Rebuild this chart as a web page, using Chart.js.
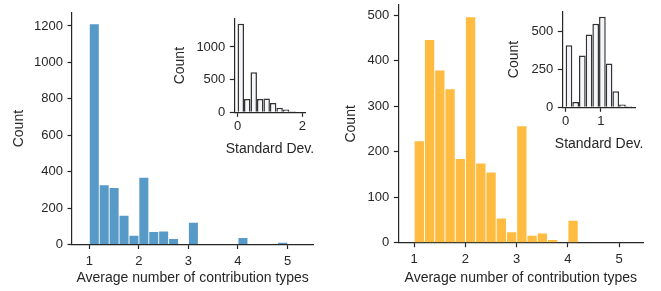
<!DOCTYPE html>
<html>
<head>
<meta charset="utf-8">
<script src="https://cdn.jsdelivr.net/npm/chart.js@4.4.1/dist/chart.umd.min.js"></script>
<style>
  body { margin: 0; background: #fff; }
  #wrap { position: relative; width: 661px; height: 291px; }
  #wrap canvas { position: absolute; left: 0; top: 0; }
</style>
</head>
<body>
<div id="wrap">
  <canvas id="left-main" width="661" height="291"></canvas>
  <canvas id="left-inset" width="661" height="291"></canvas>
  <canvas id="right-main" width="661" height="291"></canvas>
  <canvas id="right-inset" width="661" height="291"></canvas>
</div>
<script>
// ---------------- data ----------------
// main histograms: bin centers (bins of 0.2 from 1 to 5)
const mainBins = [1.1, 1.3, 1.5, 1.7, 1.9, 2.1, 2.3, 2.5, 2.7, 2.9, 3.1, 3.3, 3.5, 3.7, 3.9, 4.1, 4.3, 4.5, 4.7, 4.9];
const leftCounts = [1210, 325, 310, 158, 48, 367, 69, 72, 30, 0, 120, 0, 0, 0, 0, 36, 0, 0, 0, 10];
const rightCounts = [223, 445, 378, 337, 184, 495, 174, 154, 53, 23, 256, 15, 20, 6, 0, 48, 0, 0, 0, 0];

// insets: standard deviation histograms
const leftSdBins = [0.1, 0.3, 0.5, 0.7, 0.9, 1.1, 1.3, 1.5, 1.7, 1.9];
const leftSdCounts = [1355, 205, 612, 205, 212, 143, 71, 41, 15, 8];
const rightSdBins = [0.095, 0.285, 0.475, 0.665, 0.855, 1.045, 1.235, 1.425, 1.615, 1.805];
const rightSdCounts = [411, 35, 343, 482, 553, 600, 290, 106, 18, 7];

// ticks
const leftYTicks = [0, 200, 400, 600, 800, 1000, 1200];
const rightYTicks = [0, 100, 200, 300, 400, 500];
const mainXTicks = [1, 2, 3, 4, 5];
const leftSdYTicks = [0, 500, 1000];
const leftSdXTicks = [0, 2];
const rightSdYTicks = [0, 250, 500];
const rightSdXTicks = [0, 1];

const xTitleMain = 'Average number of contribution types';
const xTitleInset = 'Standard Dev.';
const yTitle = 'Count';

// ---------------- helpers ----------------
const INK = '#262626';
const FONT = 'Liberation Sans, Arial, sans-serif';
const W = 661, H = 291;
const LH = 14 * 1.2;

function fixedTicks(list) {
    return (scale) => { scale.ticks = list.map(v => ({ value: v })); };
}

// Chart.js squeezes an axis title to the axis width, the inset ones are wider than their axes
const wideXTitle = {
    id: 'wideXTitle',
    afterDraw(chart, args, opts) {
        if (!opts.text) return;
        const ctx = chart.ctx;
        const area = chart.chartArea;
        ctx.save();
        ctx.font = '14px ' + FONT;
        ctx.fillStyle = INK;
        ctx.textAlign = 'center';
        ctx.textBaseline = 'middle';
        ctx.fillText(opts.text, (area.left + area.right) / 2, opts.y);
        ctx.restore();
    }
};

// g = wanted plot box and text spots
function makeChart(id, g) {
    const yBoxLeft = g.l - g.yW;
    const xBoxBottom = g.b + g.xH;
    return new Chart(document.getElementById(id), {
        type: 'bar',
        data: {
            datasets: [{
                data: g.bins.map((b, i) => ({ x: b, y: g.counts[i] })),
                backgroundColor: g.fill,
                borderColor: g.edge || g.fill,
                borderWidth: g.edge ? 1.5 : 0,
                barPercentage: g.barPct,
                categoryPercentage: 1,
                inflateAmount: 0
            }]
        },
        plugins: [wideXTitle],
        options: {
            responsive: false,
            animation: false,
            devicePixelRatio: 1,
            layout: {
                padding: { left: yBoxLeft, right: W - g.r, top: g.t, bottom: H - xBoxBottom }
            },
            plugins: {
                legend: { display: false },
                tooltip: { enabled: false },
                wideXTitle: { text: g.inset ? g.xTitle : null, y: g.xTitleY }
            },
            scales: {
                x: {
                    type: 'linear',
                    offset: false,
                    min: g.xMin,
                    max: g.xMax,
                    afterBuildTicks: fixedTicks(g.xTicks),
                    afterFit: (s) => { s.height = g.xH; s.paddingLeft = 0; s.paddingRight = 0; },
                    border: { color: INK, width: 1.2 },
                    grid: { drawOnChartArea: false, offset: false, tickLength: 4.5, tickColor: INK, tickWidth: 1.2 },
                    ticks: { color: INK, font: { family: FONT, size: 13 }, padding: g.xTickPad, maxRotation: 0, callback: v => String(v) },
                    title: {
                        display: !g.inset, text: g.xTitle, color: INK,
                        font: { family: FONT, size: 14 },
                        padding: { top: 0, bottom: xBoxBottom - g.xTitleY - LH / 2 }
                    }
                },
                y: {
                    min: 0,
                    max: g.yMax,
                    afterBuildTicks: fixedTicks(g.yTicks),
                    afterFit: (s) => { s.width = g.yW; s.paddingTop = 0; s.paddingBottom = 0; },
                    border: { color: INK, width: 1.2 },
                    grid: { drawOnChartArea: false, tickLength: 4.5, tickColor: INK, tickWidth: 1.2 },
                    ticks: { color: INK, font: { family: FONT, size: 13 }, padding: 4.5, callback: v => String(v) },
                    title: {
                        display: true, text: yTitle, color: INK,
                        font: { family: FONT, size: 14 },
                        padding: { top: g.yTitleX - yBoxLeft - LH / 2, bottom: 0 }
                    }
                }
            }
        }
    });
}

// ---------------- charts ----------------
makeChart('left-main', {
    bins: mainBins, counts: leftCounts, fill: '#5799c7', barPct: 0.91,
    l: 72, r: 313.3, t: 12.7, b: 244.5, yW: 72, xH: 46.5,
    xMin: 0.65, xMax: 5.52, yMax: 1273,
    xTicks: mainXTicks, yTicks: leftYTicks, xTickPad: 4.3,
    xTitle: xTitleMain, xTitleY: 278, yTitleX: 19.5
});

makeChart('right-main', {
    bins: mainBins, counts: rightCounts, fill: '#ffbc40', barPct: 0.91,
    l: 398.3, r: 643.3, t: 5, b: 242.7, yW: 72, xH: 48.3,
    xMin: 0.69, xMax: 5.47, yMax: 522,
    xTicks: mainXTicks, yTicks: rightYTicks, xTickPad: 4.3,
    xTitle: xTitleMain, xTitleY: 278.5, yTitleX: 351
});

makeChart('left-inset', {
    inset: true,
    bins: leftSdBins, counts: leftSdCounts, fill: '#f4f6f9', edge: '#333333', barPct: 1,
    l: 234.3, r: 305.5, t: 19, b: 112.3, yW: 66, xH: 45,
    xMin: -0.1, xMax: 2.1, yMax: 1428,
    xTicks: leftSdXTicks, yTicks: leftSdYTicks, xTickPad: 2,
    xTitle: xTitleInset, xTitleY: 149, yTitleX: 180
});

makeChart('right-inset', {
    inset: true,
    bins: rightSdBins, counts: rightSdCounts, fill: '#f4f6f9', edge: '#333333', barPct: 1,
    l: 562.3, r: 635.8, t: 11.7, b: 107.3, yW: 60, xH: 45,
    xMin: -0.095, xMax: 1.995, yMax: 633,
    xTicks: rightSdXTicks, yTicks: rightSdYTicks, xTickPad: 2,
    xTitle: xTitleInset, xTitleY: 144, yTitleX: 514
});
</script>
</body>
</html>
